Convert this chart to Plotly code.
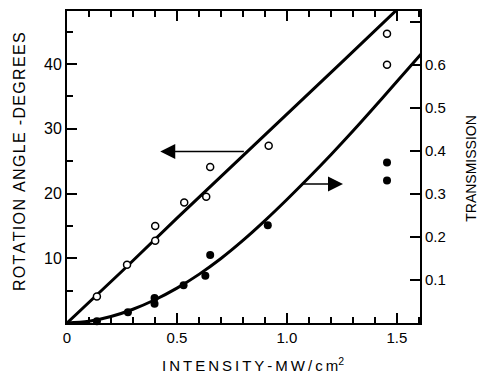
import plotly.graph_objects as go

# ---- data ----
rot_x = [0.136, 0.273, 0.401, 0.401, 0.533, 0.633, 0.651, 0.917, 1.455, 1.455]
rot_y = [4.1, 9.0, 12.7, 15.0, 18.6, 19.5, 24.1, 27.4, 39.9, 44.7]

tr_x = [0.136, 0.277, 0.398, 0.398, 0.530, 0.629, 0.651, 0.913, 1.455, 1.455]
tr_y = [0.004, 0.025, 0.058, 0.045, 0.088, 0.110, 0.158, 0.227, 0.373, 0.331]

rot_curve_x = [0, 0.25, 0.5, 0.75, 1.0, 1.25, 1.5]
rot_curve_y = [0, 8.0, 16.2, 24.2, 32.3, 40.3, 48.4]

tr_curve_x = [0, 0.1, 0.2, 0.3, 0.4, 0.5, 0.6, 0.7, 0.8, 0.9, 1.0, 1.1, 1.2, 1.3, 1.4, 1.5, 1.62]
tr_curve_y = [0, 0.004, 0.015, 0.032, 0.054, 0.081, 0.113, 0.150, 0.192, 0.238, 0.287,
              0.338, 0.391, 0.446, 0.503, 0.561, 0.631]

x_ticks = [0, 0.5, 1.0, 1.5]
x_ticktext = ["0", "0.5", "1.0", "1.5"]
y_ticks = [10, 20, 30, 40]
y_ticktext = ["10", "20", "30", "40"]
y2_ticks = [0.1, 0.2, 0.3, 0.4, 0.5, 0.6, 0.7]
y2_ticktext = ["0.1", "0.2", "0.3", "0.4", "0.5", "0.6", " "]

FONT = "Liberation Sans, Arial, sans-serif"


def spaced(s, sep):
    return sep.join(s)


fig = go.Figure()
fig.add_trace(go.Scatter(x=rot_curve_x, y=rot_curve_y, mode="lines",
                         line=dict(color="black", width=3), showlegend=False))
fig.add_trace(go.Scatter(x=tr_curve_x, y=tr_curve_y, mode="lines", yaxis="y2",
                         line=dict(color="black", width=3, shape="spline"), showlegend=False))
fig.add_trace(go.Scatter(x=rot_x, y=rot_y, mode="markers",
                         marker=dict(symbol="circle", size=7, color="white",
                                     line=dict(color="black", width=1.5)),
                         showlegend=False, cliponaxis=False))
fig.add_trace(go.Scatter(x=tr_x, y=tr_y, mode="markers", yaxis="y2",
                         marker=dict(symbol="circle", size=8, color="black",
                                     line=dict(color="black", width=0)),
                         showlegend=False, cliponaxis=False))

fig.update_layout(
    width=479, height=375,
    margin=dict(l=67, r=59, t=9, b=52),
    paper_bgcolor="white", plot_bgcolor="white",
    font=dict(family=FONT, color="black"),
    xaxis=dict(range=[0, 1.605], tickmode="array", tickvals=x_ticks, ticktext=x_ticktext,
               ticks="inside", ticklen=10, tickwidth=1.5, tickcolor="black",
               minor=dict(tickmode="linear", tick0=0, dtick=0.1, ticks="inside",
                          ticklen=6, tickwidth=1.5, tickcolor="black"),
               showline=True, linecolor="black", linewidth=2, mirror="ticks",
               showgrid=False, zeroline=False, tickfont=dict(size=15)),
    yaxis=dict(range=[0, 48.2], tickmode="array", tickvals=y_ticks, ticktext=y_ticktext,
               ticks="inside", ticklen=10, tickwidth=1.5, tickcolor="black",
               minor=dict(tickmode="linear", tick0=0, dtick=5, ticks="inside",
                          ticklen=6, tickwidth=1.5, tickcolor="black"),
               showline=True, linecolor="black", linewidth=2,
               showgrid=False, zeroline=False, tickfont=dict(size=16)),
    yaxis2=dict(range=[0, 0.725], overlaying="y", side="right", tickmode="array",
                tickvals=y2_ticks, ticktext=y2_ticktext,
                ticks="inside", ticklen=10, tickwidth=1.5, tickcolor="black",
                showline=True, linecolor="black", linewidth=2,
                showgrid=False, zeroline=False, tickfont=dict(size=15)),
)

annotations = [
    dict(text=spaced("ROTATION ANGLE -DEGREES", "\u200a"), xref="paper", yref="paper",
         x=-0.136, y=0.519, textangle=-90, showarrow=False, font=dict(size=16),
         xanchor="center", yanchor="middle"),
    dict(text="TRANSMISSION", xref="paper", yref="paper", x=1.144, y=0.497,
         textangle=-90, showarrow=False, font=dict(size=14), xanchor="center", yanchor="middle"),
    dict(text=spaced("INTENSITY-MW/cm", "\u2009") + "<sup>2</sup>",
         xref="paper", yref="paper", x=0.527, y=-0.134, showarrow=False,
         font=dict(size=15), xanchor="center", yanchor="middle"),
    dict(x=0.424, y=26.5, ax=0.811, ay=26.5, xref="x", yref="y", axref="x", ayref="y",
         showarrow=True, arrowhead=2, arrowsize=2, arrowwidth=1.5, arrowcolor="black", text=""),
    dict(x=1.255, y=0.323, ax=1.068, ay=0.323, xref="x", yref="y2", axref="x", ayref="y2",
         showarrow=True, arrowhead=2, arrowsize=2, arrowwidth=1.5, arrowcolor="black", text=""),
]
fig.update_layout(annotations=annotations)

fig.write_html("out.html",
               config={"displayModeBar": False},
               post_script="document.body.style.margin='0px';document.body.style.overflow='hidden';")
